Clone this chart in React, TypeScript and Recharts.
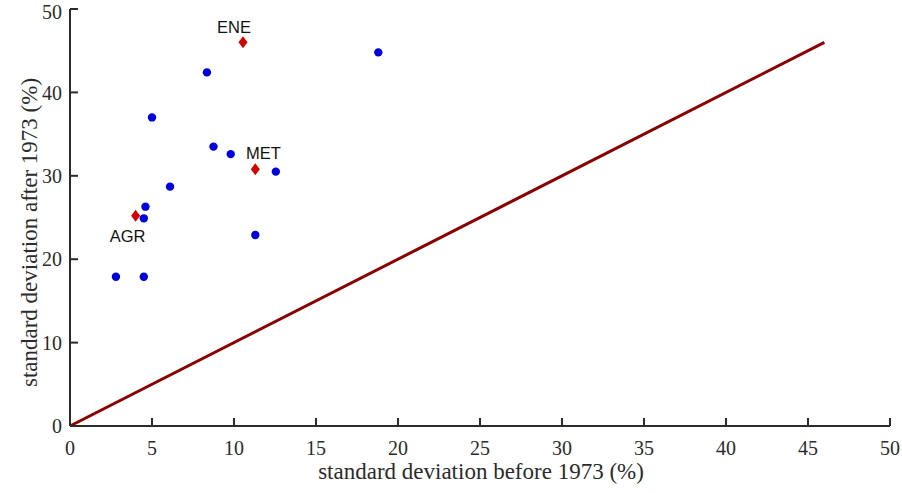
import {
  ScatterChart,
  Scatter,
  XAxis,
  YAxis,
  ReferenceLine,
} from "recharts";

// sectors, std dev before 1973 (%) vs after 1973 (%)
const otherX = [2.8, 4.5, 4.5, 4.6, 5.0, 6.1, 8.35, 8.75, 9.8, 11.3, 12.55, 18.8];
const otherY = [17.9, 17.9, 24.9, 26.3, 37.0, 28.7, 42.4, 33.5, 32.6, 22.9, 30.5, 44.8];

const keyNames = ["AGR", "ENE", "MET"];
const keyX = [4.0, 10.55, 11.3];
const keyY = [25.2, 46.0, 30.8];

const diagEnd = 46;
const xTicks = [0, 5, 10, 15, 20, 25, 30, 35, 40, 45, 50];
const yTicks = [0, 10, 20, 30, 40, 50];

const xTitle = "standard deviation before 1973 (%)";
const yTitle = "standard deviation after 1973 (%)";

const others = otherX.map((x, i) => ({ x, y: otherY[i] }));
const keys = keyX.map((x, i) => ({ x, y: keyY[i], name: keyNames[i] }));

// where each sector's name sits relative to its marker
const labelOffset: Record<string, [number, number]> = {
  AGR: [-8, 26],
  ENE: [-9, -9],
  MET: [8, -10],
};

const axisColor = "#2b2b2b";
const serif = "Liberation Serif";
const tickFont = { fill: axisColor, fontSize: 20, fontFamily: serif };

const Dot = (props: any) => {
  const { cx, cy } = props;
  return <circle cx={cx} cy={cy} r={4.2} fill="#0000dd" />;
};

const Diamond = (props: any) => {
  const { cx, cy, payload } = props;
  const [dx, dy] = labelOffset[payload.name] || [0, 0];
  return (
    <g>
      <path
        d={`M${cx},${cy - 6} L${cx + 4.5},${cy} L${cx},${cy + 6} L${cx - 4.5},${cy} Z`}
        fill="#d40000"
      />
      <text
        x={cx + dx}
        y={cy + dy}
        textAnchor="middle"
        fontSize={16.5}
        fontFamily="Liberation Sans"
        fill="#111"
      >
        {payload.name}
      </text>
    </g>
  );
};

const XTitle = ({ viewBox }: any) => {
  const x = viewBox.x + viewBox.width / 2 + 1;
  const y = viewBox.y + 53;
  return (
    <text x={x} y={y} textAnchor="middle" fontSize={23} fontFamily={serif} fill={axisColor}>
      {xTitle}
    </text>
  );
};

const YTitle = ({ viewBox }: any) => {
  const x = viewBox.x + 37;
  const y = viewBox.y + viewBox.height / 2 + 15;
  return (
    <text
      x={x}
      y={y}
      transform={`rotate(-90, ${x}, ${y})`}
      textAnchor="middle"
      fontSize={23}
      fontFamily={serif}
      fill={axisColor}
    >
      {yTitle}
    </text>
  );
};

export default function App() {
  return (
    <div style={{ position: "absolute", left: 0, top: 0, background: "#fff" }}>
      <ScatterChart
        width={902}
        height={493}
        margin={{ top: 9, right: 12, bottom: 0, left: 0 }}
      >
        <XAxis
          type="number"
          dataKey="x"
          domain={[0, 50]}
          ticks={xTicks}
          height={67}
          tickSize={-8}
          tickMargin={23}
          axisLine={{ stroke: axisColor, strokeWidth: 2 }}
          tickLine={{ stroke: axisColor, strokeWidth: 2 }}
          tick={tickFont}
          label={<XTitle />}
        />
        <YAxis
          type="number"
          dataKey="y"
          domain={[0, 50]}
          ticks={yTicks}
          width={70}
          tickSize={-8}
          tickMargin={16}
          axisLine={{ stroke: axisColor, strokeWidth: 2 }}
          tickLine={{ stroke: axisColor, strokeWidth: 2 }}
          tick={tickFont}
          label={<YTitle />}
        />
        <ReferenceLine
          segment={[
            { x: 0, y: 0 },
            { x: diagEnd, y: diagEnd },
          ]}
          stroke="#880000"
          strokeWidth={3}
        />
        <Scatter data={others} shape={Dot} isAnimationActive={false} />
        <Scatter data={keys} shape={Diamond} isAnimationActive={false} />
      </ScatterChart>
    </div>
  );
}
